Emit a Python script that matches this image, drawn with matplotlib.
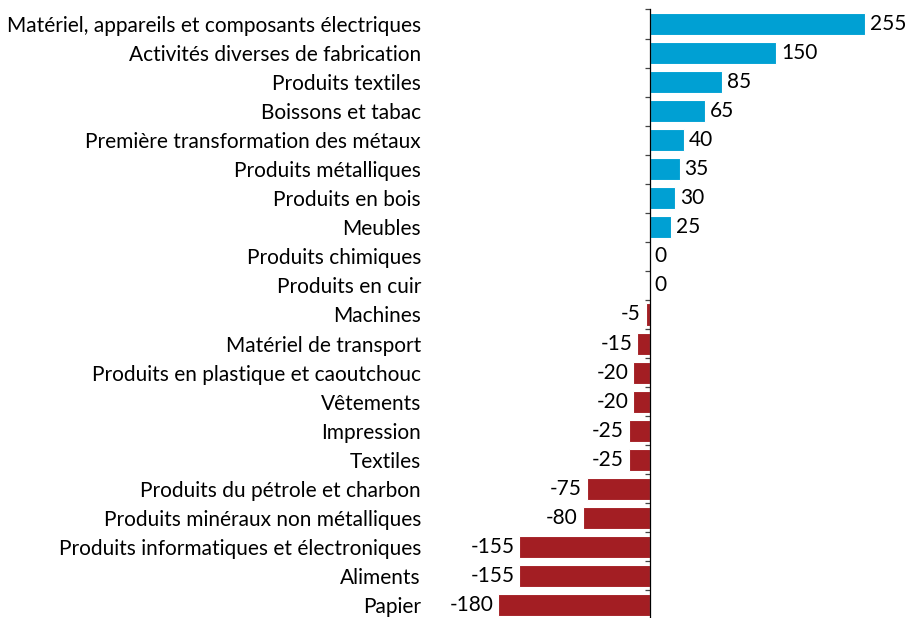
import matplotlib
matplotlib.use("Agg")
import matplotlib.pyplot as plt
from matplotlib.ticker import FixedLocator

plt.rcParams['font.family'] = ['Lato', 'DejaVu Sans']

# categories, top to bottom
categories = [
    "Matériel, appareils et composants électriques",
    "Activités diverses de fabrication",
    "Produits textiles",
    "Boissons et tabac",
    "Première transformation des métaux",
    "Produits métalliques",
    "Produits en bois",
    "Meubles",
    "Produits chimiques",
    "Produits en cuir",
    "Machines",
    "Matériel de transport",
    "Produits en plastique et caoutchouc",
    "Vêtements",
    "Impression",
    "Textiles",
    "Produits du pétrole et charbon",
    "Produits minéraux non métalliques",
    "Produits informatiques et électroniques",
    "Aliments",
    "Papier",
]
values = [255, 150, 85, 65, 40, 35, 30, 25, 0, 0, -5, -15, -20, -20, -25, -25,
          -75, -80, -155, -155, -180]

BLUE = "#00A0D3"
RED = "#A31E23"
DPI = 100
FS = 15

fig = plt.figure(figsize=(9.05, 6.18), dpi=DPI)
W, H = 905, 618
ax_left, ax_right = 490, 895
ax_top, ax_bottom = 9.5, 619.5
ax = fig.add_axes([ax_left / W, 1 - ax_bottom / H, (ax_right - ax_left) / W, (ax_bottom - ax_top) / H])

px_per_unit = 0.843
x0 = 650
ax.set_xlim((ax_left - x0) / px_per_unit, (ax_right - x0) / px_per_unit)

n = len(categories)
pos = list(range(n))
colors = [BLUE if v > 0 else RED for v in values]
ax.barh(pos, values, height=0.76, color=colors, edgecolor="white", linewidth=0.8)
ax.set_ylim(n - 0.5, -0.5)

# value labels
for y, v in zip(pos, values):
    if v >= 0:
        ax.annotate(str(v), (v, y), xytext=(3.5, 0), textcoords="offset points",
                    ha="left", va="center", fontsize=FS, color="black")
    else:
        ax.annotate(str(v), (v, y), xytext=(-3.5, 0), textcoords="offset points",
                    ha="right", va="center", fontsize=FS, color="black")

# axis styling
for s in ["top", "right", "bottom"]:
    ax.spines[s].set_visible(False)
ax.spines["left"].set_position(("data", 0))
ax.spines["left"].set_color("black")
ax.spines["left"].set_linewidth(0.9)
ax.set_xticks([])

ax.set_yticks(pos)
pad_pt = (x0 - 421) * 72 / DPI
ax.set_yticklabels(categories, fontsize=FS)
ax.tick_params(axis="y", which="major", length=0, pad=pad_pt)
ax.yaxis.set_minor_locator(FixedLocator([p - 0.5 for p in pos] + [n - 0.5]))
ax.tick_params(axis="y", which="minor", length=3.5, width=0.9, direction="out", color="#444444")

fig.savefig("out.png", dpi=DPI)
